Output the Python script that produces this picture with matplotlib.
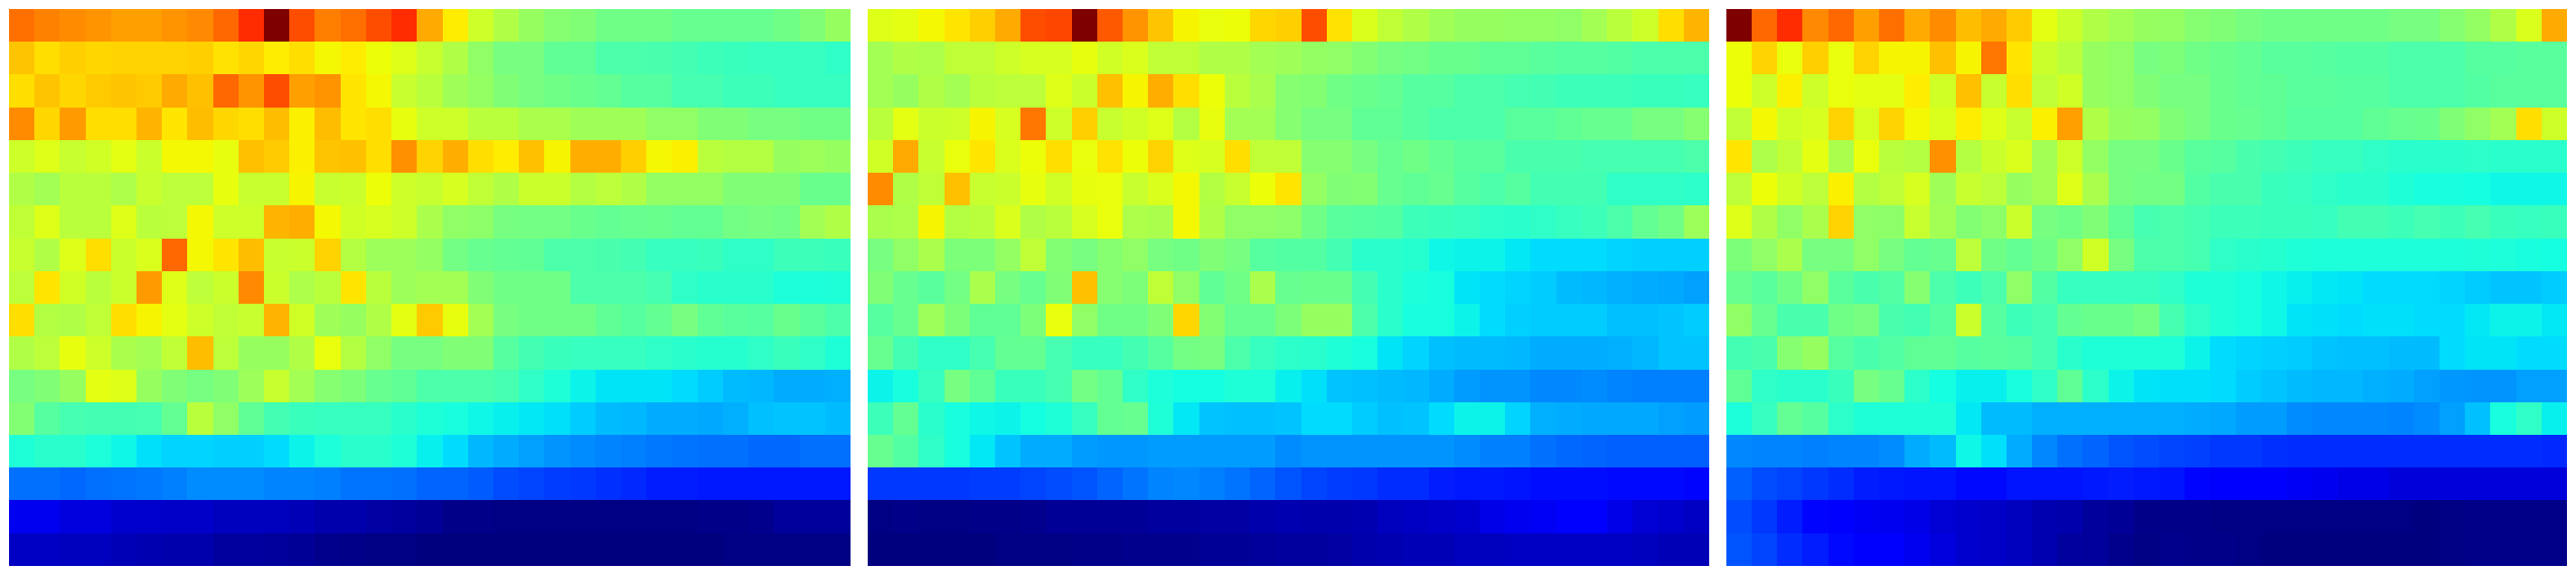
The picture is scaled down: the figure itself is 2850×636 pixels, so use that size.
import numpy as np
import matplotlib
matplotlib.use("Agg")
import matplotlib.pyplot as plt

panel_a = [
[790,770,760,750,740,740,750,765,800,860,1000,825,775,790,825,860,730, 660,600,565,535,515,505,485,485,485,475,475,475,475,485,505,535],
[700,675,690,680,685,685,685,690,670,680,660,675,645,660,640,620,590, 565,525,495,495,465,465,445,445,440,430,425,420,415,415,415,410],
[675,700,680,695,700,695,730,705,800,750,825,740,750,665,645,590,575, 545,530,505,495,485,480,470,455,455,435,435,425,425,415,415,415],
[760,680,745,675,675,715,665,710,680,675,710,655,710,665,675,630,600, 600,575,575,555,555,545,545,545,525,525,505,505,495,495,485,485],
[600,620,590,605,625,595,645,645,630,705,695,655,700,705,675,755,685, 725,675,660,705,650,725,725,690,645,655,575,570,570,535,540,535],
[565,550,575,575,560,590,580,580,630,590,590,650,590,595,640,600,590, 610,585,565,595,595,570,580,565,530,530,530,505,505,505,480,480],
[585,620,575,575,620,575,580,645,600,600,715,725,645,605,610,600,555, 525,520,495,490,490,480,470,475,480,470,470,490,495,490,550,565],
[590,565,620,675,595,615,800,645,665,710,590,595,685,570,540,540,530, 490,475,470,465,445,445,440,430,415,415,420,410,410,425,425,420],
[580,665,605,575,595,745,620,580,595,765,595,560,575,665,575,540,550, 550,505,485,485,485,445,445,445,435,410,400,400,400,385,385,390],
[675,570,565,585,675,650,625,600,585,590,715,605,545,535,565,625,695, 630,550,495,485,485,485,465,455,470,495,465,460,455,480,460,445],
[565,580,630,600,555,550,585,710,580,535,535,565,635,570,525,495,495, 505,505,455,430,420,415,415,415,410,400,395,395,410,420,410,390],
[495,505,535,625,620,535,505,495,505,540,590,550,515,500,475,465,445, 445,445,435,410,390,365,350,350,350,340,325,310,305,295,295,300],
[510,455,435,430,430,435,470,575,525,465,430,420,415,415,415,400,390, 380,370,360,355,345,325,310,305,295,295,290,300,315,320,320,310],
[390,400,400,385,370,345,335,335,330,330,340,365,385,400,400,390,360, 340,305,295,285,270,265,255,250,245,240,235,235,230,230,235,235],
[235,235,230,235,240,245,250,265,265,265,255,255,250,240,240,235,225, 225,215,200,195,185,180,175,165,155,155,150,150,150,150,150,150],
[100,100,85,85,70,70,65,65,55,55,55,50,40,40,35,30,20, 10,10,5,5,5,5,5,5,5,5,10,10,15,25,25,25],
[60,60,55,55,50,45,40,40,30,30,25,20,15,10,5,5,0, 0,0,0,0,0,0,0,0,0,0,0,5,5,5,5,5],
]

panel_b = [
[620,625,645,665,690,730,825,835,1000,815,750,700,650,635,640,680,690, 825,670,615,585,565,545,535,535,530,530,525,550,575,600,675,715],
[550,565,560,585,585,600,610,610,630,605,615,585,585,565,565,550,545, 530,525,510,495,490,480,480,465,465,460,455,455,450,445,445,445],
[550,535,565,550,575,580,580,620,595,705,650,725,675,640,575,555,515, 510,485,480,470,455,455,445,445,435,430,425,425,425,420,420,415],
[575,625,595,600,650,610,785,600,690,590,605,620,570,630,550,550,515, 495,495,465,465,455,445,445,445,460,460,465,475,475,495,495,515],
[605,730,590,635,665,615,640,675,635,670,640,685,620,610,675,585,585, 515,515,495,475,485,470,460,460,440,440,440,435,435,435,435,445],
[760,565,585,705,590,595,630,605,630,635,590,615,645,570,590,640,665, 530,505,510,475,465,475,455,445,455,430,430,430,410,410,410,405],
[555,560,650,570,575,615,565,575,610,635,560,555,645,565,525,525,520, 485,460,455,450,425,420,415,405,400,410,415,425,445,470,485,540],
[495,525,555,500,500,530,585,510,495,515,525,495,485,505,495,455,450, 450,430,400,400,395,370,365,365,355,340,340,340,335,330,330,330],
[505,475,460,490,555,495,475,505,705,515,500,585,525,465,485,555,475, 480,480,430,400,385,380,350,340,335,325,310,305,300,295,290,285],
[455,475,540,500,465,465,500,635,525,485,485,505,680,510,475,475,500, 535,535,445,400,380,380,365,340,330,325,325,325,315,315,320,325],
[475,430,410,410,435,470,470,435,415,415,430,455,490,495,445,415,405, 400,390,380,350,335,315,310,310,305,295,295,295,300,305,320,320],
[365,380,415,495,465,420,420,435,490,470,410,385,375,375,390,390,360, 345,320,315,310,305,295,280,270,270,260,260,265,255,250,250,250],
[425,470,400,380,370,365,375,390,415,470,475,390,355,320,315,315,320, 340,340,325,315,320,340,365,365,335,300,295,290,290,290,285,280],
[475,450,410,380,355,320,295,295,280,275,275,280,280,280,280,280,265, 270,270,270,270,270,270,265,250,250,235,230,225,220,220,220,220],
[180,180,180,180,185,185,195,200,210,225,240,255,260,250,240,225,210, 195,185,180,170,170,155,150,150,145,140,140,140,135,135,135,130],
[5,10,5,5,10,10,15,20,20,20,20,30,30,35,35,40,45, 40,40,45,55,60,65,70,90,100,105,110,110,90,75,70,60],
[0,0,0,0,0,5,5,5,10,10,15,15,15,20,20,25,30, 30,35,40,45,50,50,55,55,60,60,60,60,60,55,50,50],
]

panel_c = [
[1000,800,860,765,800,740,790,730,760,710,730,695,625,595,565,550,535, 530,515,505,495,485,485,485,485,485,495,495,515,530,565,615,730],
[640,685,635,690,635,685,650,650,705,650,785,665,595,575,535,525,495, 500,485,480,470,460,460,455,450,450,445,445,445,455,455,460,460],
[640,600,655,600,635,625,625,660,605,705,590,675,585,605,535,525,505, 495,495,480,470,465,460,460,455,455,445,445,445,450,460,460,460],
[585,645,605,610,685,610,685,645,615,660,620,590,655,740,565,535,530, 505,495,480,475,465,455,455,455,465,475,480,505,525,550,675,600],
[665,560,585,625,555,635,575,570,755,570,595,615,550,600,530,495,495, 480,460,455,440,430,425,415,415,410,400,400,400,405,400,400,400],
[580,640,605,580,655,570,585,610,545,590,580,535,550,620,555,495,490, 490,450,440,440,420,415,410,400,400,390,380,380,375,370,370,370],
[620,565,525,555,685,525,520,590,550,510,520,595,495,485,505,465,435, 445,435,425,425,420,420,415,430,430,425,435,425,435,420,415,420],
[500,525,555,495,495,525,495,470,475,580,485,470,485,525,605,495,445, 445,435,410,400,395,390,385,385,385,385,385,385,390,385,380,375],
[475,460,485,525,460,440,450,515,445,425,445,525,450,415,415,415,415, 410,390,390,380,370,360,355,350,340,340,340,335,325,320,320,325],
[525,475,440,440,485,495,440,430,455,595,455,425,435,470,480,480,490, 435,410,390,380,370,350,345,340,345,345,340,340,355,365,365,355],
[430,440,515,535,455,440,450,465,465,455,460,455,435,400,390,390,390, 390,365,340,335,330,325,320,315,315,310,310,340,350,350,340,340],
[465,410,400,400,420,495,475,405,375,360,360,380,410,465,405,365,350, 345,345,340,325,320,310,305,305,300,295,285,275,270,270,285,285],
[385,415,470,455,405,390,390,390,390,355,310,310,300,300,300,300,300, 300,295,290,280,280,265,260,260,260,255,265,285,315,380,410,360],
[260,255,255,250,255,255,265,295,310,370,345,295,260,235,225,210,200, 195,190,180,180,175,170,170,170,170,170,170,170,170,170,170,165],
[220,200,195,180,170,155,150,145,145,135,135,145,145,145,150,155,150, 145,130,110,110,110,105,100,90,90,80,80,80,80,80,80,80],
[200,180,155,130,110,105,100,90,75,70,65,55,45,40,25,20,10, 10,10,5,5,5,5,5,5,5,5,0,5,10,10,10,10],
[210,195,170,155,135,110,110,100,85,70,65,55,45,30,25,15,5, 15,10,10,5,0,0,0,0,0,0,0,5,10,10,10,10],
]

panels = [panel_a, panel_b, panel_c]
value_min, value_max = 0, 1000

fig_w, fig_h = 2850, 636
fig = plt.figure(figsize=(fig_w / 100, fig_h / 100), dpi=100, facecolor="white")
lefts = [10, 960, 1910]
width, height, top = 930, 616, 10
for left, panel in zip(lefts, panels):
    ax = fig.add_axes([left / fig_w, 1 - (top + height) / fig_h, width / fig_w, height / fig_h])
    ax.imshow(np.array(panel, dtype=float), cmap="jet", vmin=value_min, vmax=value_max,
              aspect="auto", interpolation="nearest")
    ax.axis("off")
fig.savefig("out.png", dpi=100, facecolor="white")
